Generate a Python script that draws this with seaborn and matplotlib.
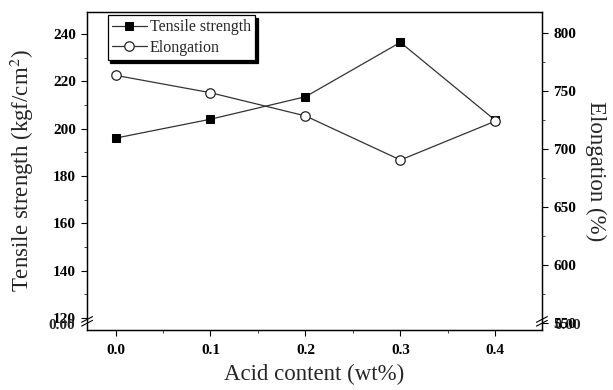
import matplotlib
matplotlib.use("Agg")
import matplotlib.pyplot as plt
import seaborn as sns
import pandas as pd

# Measured values
acid_content = [0.0, 0.1, 0.2, 0.3, 0.4]
tensile_strength = [196, 204, 213.5, 236.5, 203.5]   # kgf/cm^2
elongation = [763.5, 748.5, 728.5, 690.5, 724]        # %

left_ticks = [120, 140, 160, 180, 200, 220, 240]
right_ticks = [550, 600, 650, 700, 750, 800]
x_ticks = [0.0, 0.1, 0.2, 0.3, 0.4]

sns.set_style("ticks")
plt.rcParams["font.family"] = ["Liberation Serif", "DejaVu Serif"]
plt.rcParams["mathtext.fontset"] = "stix"

df = pd.DataFrame({"acid": acid_content, "ts": tensile_strength, "el": elongation})

fig = plt.figure(figsize=(6.13, 3.90), dpi=100)
ax = fig.add_axes([0.142, 0.154, 0.742, 0.815])
ax2 = ax.twinx()

sns.lineplot(data=df, x="acid", y="ts", ax=ax, color="#333333", lw=0.9,
             marker="s", markersize=6, markerfacecolor="black",
             markeredgecolor="black", label="Tensile strength", legend=False)
sns.lineplot(data=df, x="acid", y="el", ax=ax2, color="#333333", lw=0.9,
             marker="o", markersize=6.8, markerfacecolor="white",
             markeredgecolor="#222222", markeredgewidth=0.9,
             label="Elongation", legend=False)

ax.set_xlim(-0.03, 0.449)
ax.set_ylim(114.9, 249.3)
ax2.set_ylim(544, 818)

ax.set_xticks(x_ticks)
ax.set_xticklabels([f"{v:.1f}" for v in x_ticks])
ax.set_xticks([0.05, 0.15, 0.25, 0.35], minor=True)
ax.set_yticks(left_ticks)
ax.set_yticklabels([str(v) for v in left_ticks])
ax.set_yticks([130, 150, 170, 190, 210, 230], minor=True)
ax2.set_yticks(right_ticks)
ax2.set_yticklabels([str(v) for v in right_ticks])
ax2.set_yticks([575, 625, 675, 725, 775], minor=True)

for a in (ax, ax2):
    a.tick_params(which="major", direction="out", length=4, width=0.8,
                  labelsize=11, colors="black", pad=4)
    a.tick_params(which="minor", direction="out", length=2.5, width=0.6)
    for lbl in a.get_xticklabels() + a.get_yticklabels():
        lbl.set_fontweight("bold")
    for s in a.spines.values():
        s.set_linewidth(0.9)
        s.set_color("black")
ax.tick_params(axis="x", pad=6)

ax.set_xlabel("Acid content (wt%)", fontsize=16.5, labelpad=5)
ax.set_ylabel("Tensile strength (kgf/cm$^2$)", fontsize=16.5, labelpad=12)
ax2.set_ylabel("Elongation (%)", fontsize=16.5, rotation=270, labelpad=22)

# Axis-break marks and the zero labels at the bottom of both y axes
for xa in (0.0, 1.0):
    for dy in (0.0, 0.012):
        ax.plot([xa - 0.012, xa + 0.012], [0.012 + dy, 0.03 + dy],
                transform=ax.transAxes, color="black", lw=0.8, clip_on=False)
ax.text(-0.027, 0.014, "0.00", transform=ax.transAxes, ha="right", va="center",
        fontsize=11, fontweight="bold")
ax.text(1.027, 0.014, "0.00", transform=ax.transAxes, ha="left", va="center",
        fontsize=11, fontweight="bold")

handles = [ax.lines[0], ax2.lines[0]]
leg = ax2.legend(handles, ["Tensile strength", "Elongation"],
                 loc="upper left", bbox_to_anchor=(0.045, 0.99),
                 borderaxespad=0, fancybox=False, frameon=True,
                 shadow={"color": "black", "alpha": 1.0},
                 fontsize=11.5, handlelength=2.2, handletextpad=0.2,
                 labelspacing=0.3, borderpad=0.25)
leg.get_frame().set_edgecolor("black")
leg.get_frame().set_linewidth(0.9)

fig.savefig("out.png", dpi=100)
